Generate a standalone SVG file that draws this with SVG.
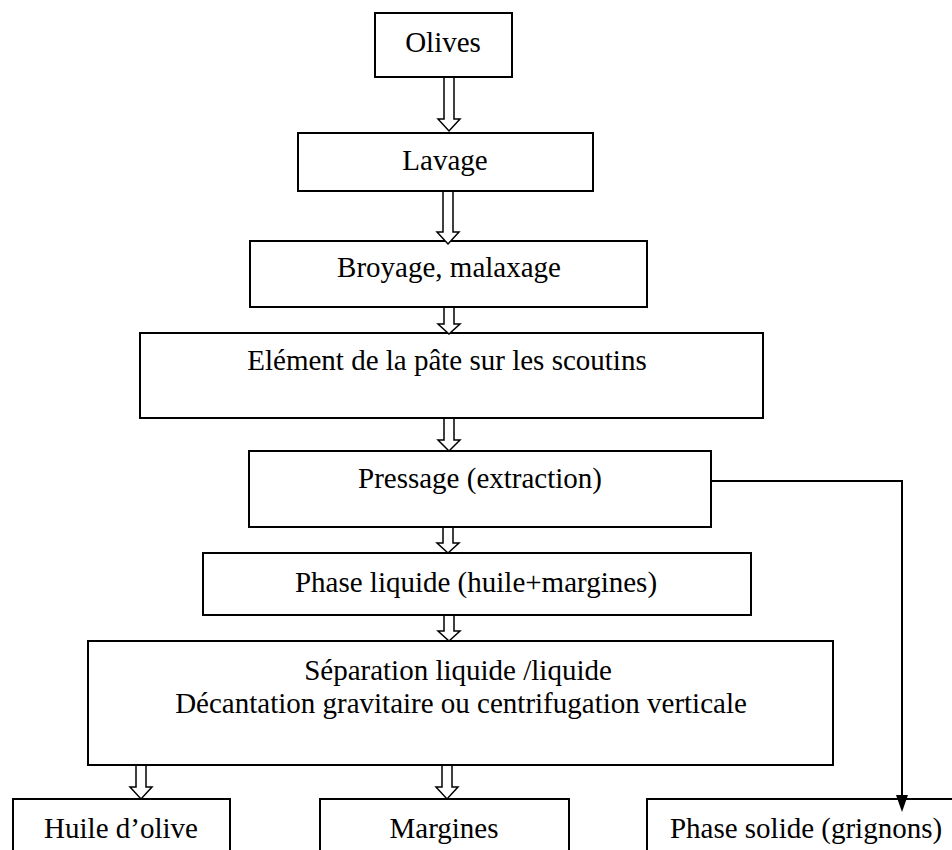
<svg xmlns="http://www.w3.org/2000/svg" width="952" height="850" viewBox="0 0 952 850">
<style>
.box{fill:#fff;stroke:#000;stroke-width:2}
.t{font-family:"Liberation Serif","Times New Roman",serif;font-size:29px;fill:#000;text-anchor:middle}
.ha{fill:#fff;stroke:#000;stroke-width:1.5;stroke-linejoin:miter}
.ln{fill:none;stroke:#000;stroke-width:2}
</style>
<rect width="952" height="850" fill="#fff"/>
<g id="olives"><rect class="box" x="375" y="13" width="137" height="64"/><text class="t" x="443" y="52">Olives</text></g>
<g id="lavage"><rect class="box" x="298" y="133" width="295" height="58"/><text class="t" x="445" y="170">Lavage</text></g>
<g id="broyage"><rect class="box" x="250" y="241" width="397" height="66"/><text class="t" x="449" y="277">Broyage, malaxage</text></g>
<g id="element"><rect class="box" x="140" y="333" width="623" height="85"/><text class="t" x="447" y="370">Elément de la pâte sur les scoutins</text></g>
<g id="pressage"><rect class="box" x="249" y="451" width="462" height="76"/><text class="t" x="480" y="488">Pressage (extraction)</text></g>
<g id="phase-liquide"><rect class="box" x="203" y="553" width="548" height="62"/><text class="t" x="476" y="592">Phase liquide (huile+margines)</text></g>
<g id="separation"><rect class="box" x="88" y="641" width="745" height="124"/><text class="t" x="458" y="680">Séparation liquide /liquide</text><text class="t" x="461" y="713">Décantation gravitaire ou centrifugation verticale</text></g>
<g id="huile"><rect class="box" x="13" y="799" width="217" height="70"/><text class="t" x="121" y="838">Huile d’olive</text></g>
<g id="margines"><rect class="box" x="320" y="799" width="249" height="70"/><text class="t" x="444" y="838">Margines</text></g>
<g id="phase-solide"><rect class="box" x="647" y="799" width="320" height="70"/><text class="t" x="806" y="838">Phase solide (grignons)</text></g>
<g id="connectors">
<path class="ha" d="M444,78 V119 H438 L449,131 L460,119 H454 V78"/>
<path class="ha" d="M443,192 V232 H437 L448,244 L459,232 H453 V192"/>
<path class="ha" d="M444,308 V324 H438 L449,334 L460,324 H454 V308"/>
<path class="ha" d="M444,419 V440 H438 L449,451 L460,440 H454 V419"/>
<path class="ha" d="M443,528 V543 H437 L448,553 L459,543 H453 V528"/>
<path class="ha" d="M444,616 V631 H438 L449,641 L460,631 H454 V616"/>
<path class="ha" d="M136,766 V787 H130 L141,799 L152,787 H146 V766"/>
<path class="ha" d="M442,766 V787 H436 L447,799 L458,787 H452 V766"/>
<path class="ln" d="M712,481 H902 V796"/>
<path d="M896,795 L908,795 L902,812 Z" fill="#000"/>
</g>
</svg>
